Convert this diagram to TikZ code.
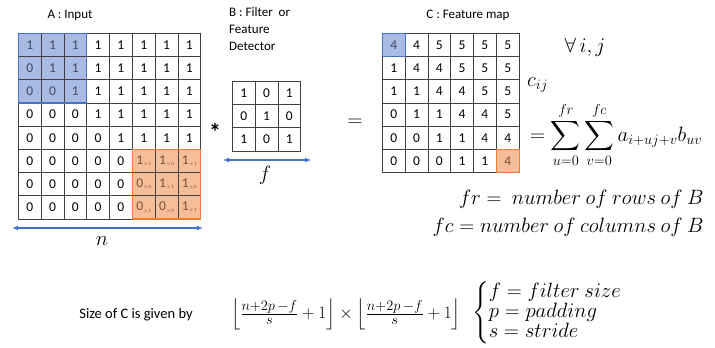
\documentclass[tikz,border=0pt]{standalone}
\usepackage{fontspec}
\setmainfont{Carlito}
\usepackage{amsmath}
\usetikzlibrary{arrows.meta, matrix, positioning, backgrounds}
\definecolor{cellblue}{HTML}{A9BBE2}
\definecolor{edgeblue}{HTML}{4472C4}
\definecolor{bluetext}{HTML}{3C4C6C}
\definecolor{cellorange}{HTML}{F6BE98}
\definecolor{edgeorange}{HTML}{ED7D31}
\definecolor{orangetext}{HTML}{7A5035}
\newcommand{\wgt}[2]{#1\raisebox{-1.5pt}{\fontsize{5}{5}\selectfont$\times$#2}}
\tikzset{
  cell/.style={draw=black!75, line width=0.6pt, minimum width=22.8pt, minimum height=23.2pt, inner sep=0pt, outer sep=0pt, anchor=center, font=\fontsize{13.5}{13.5}\selectfont},
  bcell/.style={fill=cellblue, text=bluetext},
  ocell/.style={fill=cellorange, text=orangetext},
  grid/.style={matrix of nodes, nodes in empty cells, every node/.style={cell}, column sep=-0.6pt, row sep=-0.6pt, anchor=north west, inner sep=0pt, outer sep=0pt},
  lbl/.style={font=\fontsize{13}{17}\selectfont, inner sep=0pt},
  mathtxt/.style={font=\fontsize{20}{24}\selectfont, inner sep=0pt},
  dimarrow/.style={{Latex[length=6pt,width=5pt]}-{Latex[length=6pt,width=5pt]}, line width=1.6pt, edgeblue},
  frame/.style={line width=1.2pt}
}

\begin{document}
\begin{tikzpicture}[x=1pt,y=-1pt]
  \useasboundingbox (0,0) rectangle (715,348);

  % input A
  \node[lbl] (titleA) at (70,15) {A : Input};
  \matrix[grid] (A) at (18,33) {
    |[bcell]| 1 & |[bcell]| 1 & |[bcell]| 1 & 1 & 1 & 1 & 1 & 1 \\
    |[bcell]| 0 & |[bcell]| 1 & |[bcell]| 1 & 1 & 1 & 1 & 1 & 1 \\
    |[bcell]| 0 & |[bcell]| 0 & |[bcell]| 1 & 1 & 1 & 1 & 1 & 1 \\
    0 & 0 & 0 & 1 & 1 & 1 & 1 & 1 \\
    0 & 0 & 0 & 0 & 1 & 1 & 1 & 1 \\
    0 & 0 & 0 & 0 & 0 & |[ocell]| \wgt{1}{1} & |[ocell]| \wgt{1}{0} & |[ocell]| \wgt{1}{1} \\
    0 & 0 & 0 & 0 & 0 & |[ocell]| \wgt{0}{0} & |[ocell]| \wgt{1}{1} & |[ocell]| \wgt{1}{0} \\
    0 & 0 & 0 & 0 & 0 & |[ocell]| \wgt{0}{1} & |[ocell]| \wgt{0}{0} & |[ocell]| \wgt{1}{1} \\
  };
  \draw[frame, edgeblue] (A-1-1.north west) rectangle (A-3-3.south east);
  \draw[frame, edgeorange] (A-6-6.north west) rectangle (A-8-8.south east);
  \coordinate (nL) at (12,228);
  \coordinate (nR) at (203,228);
  \draw[dimarrow] (nL) -- (nR);
  \node[mathtxt] (nlab) at (102,241) {$n$};

  % filter B
  \node[lbl, align=left, anchor=north west] (titleB) at (229,7) {B : Filter~ or\\Feature\\Detector};
  \matrix[grid] (B) at (232,81) {
    1 & 0 & 1 \\
    0 & 1 & 0 \\
    1 & 0 & 1 \\
  };
  \node[font=\bfseries\fontsize{24}{24}\selectfont, inner sep=0pt, anchor=base] (conv) at (215,140) {*};
  \coordinate (fL) at (223,160);
  \coordinate (fR) at (311,160);
  \draw[dimarrow] (fL) -- (fR);
  \node[mathtxt] (flab) at (265,175) {$f$};
  \node[mathtxt] (eq) at (355,123) {$=$};

  % feature map C
  \node[lbl] (titleC) at (468,15) {C : Feature map};
  \matrix[grid] (C) at (382,33) {
    |[bcell]| 4 & 4 & 5 & 5 & 5 & 5 \\
    1 & 4 & 4 & 5 & 5 & 5 \\
    1 & 1 & 4 & 4 & 5 & 5 \\
    0 & 1 & 1 & 4 & 4 & 5 \\
    0 & 0 & 1 & 1 & 4 & 4 \\
    0 & 0 & 0 & 1 & 1 & |[ocell]| 4 \\
  };
  \draw[frame, edgeblue] (C-1-1.north west) rectangle (C-1-1.south east);
  \draw[frame, edgeorange] (C-6-6.north west) rectangle (C-6-6.south east);

  \node[mathtxt] (forall) at (585,47) {$\forall\, i, j$};
  \node[mathtxt, anchor=west] (cij) at (527,85) {$c_{ij}$};
  \node[mathtxt, font=\fontsize{20.5}{24}\selectfont, anchor=west] (sumeq) at (530,135) {$\displaystyle = \sum_{u=0}^{fr}\sum_{v=0}^{fc} a_{i+uj+v}b_{uv}$};
  \node[mathtxt, anchor=east] (frdef) at (704,199) {$fr =\ number\ of\ rows\ of\ B$};
  \node[mathtxt, anchor=east] (fcdef) at (704,227) {$fc = number\ of\ columns\ of\ B$};

  % size of C
  \node[lbl, font=\fontsize{14.5}{17}\selectfont] (sizeC) at (136,315) {Size of C is given by};
  \node[mathtxt, font=\fontsize{19}{22}\selectfont, anchor=west] (sizeF) at (231,314) {$\Bigl\lfloor\frac{n+2p\,-f}{s}+1\Bigr\rfloor\times\Bigl\lfloor\frac{n+2p\,-f}{s}+1\Bigr\rfloor$};
  \node[mathtxt, font=\fontsize{21.5}{18}\selectfont, anchor=west] (legend) at (472,313) {$\left\{\begin{array}{@{}l@{}} f = filter\ size\\ p = padding\\ s = stride\end{array}\right.$};
\end{tikzpicture}
\end{document}
